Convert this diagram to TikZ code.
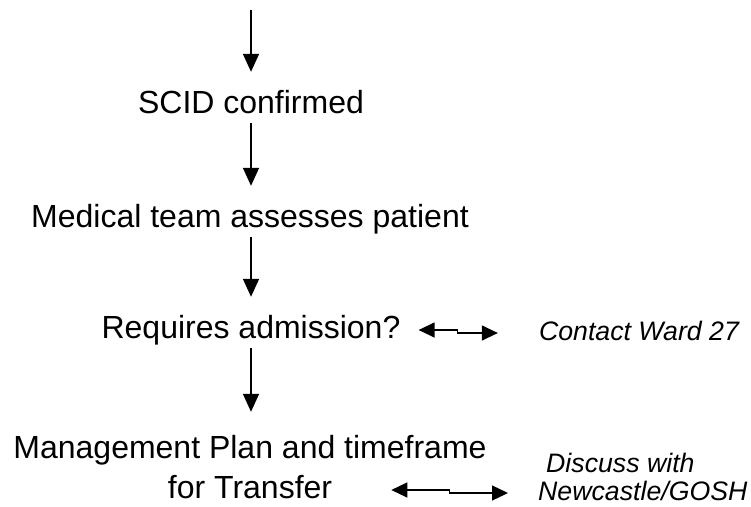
\documentclass[tikz,border=0pt]{standalone}
\usepackage{fontspec}
\setmainfont{Liberation Sans}
\usetikzlibrary{arrows.meta}

\begin{document}
\begin{tikzpicture}[x=1pt,y=-1pt,
  stage/.style={inner sep=0pt,anchor=base,text height=23pt,text depth=7pt,font=\fontsize{32}{38}\selectfont},
  note/.style={inner sep=0pt,text height=19pt,text depth=5pt,font=\fontsize{26.7}{30}\selectfont\itshape},
  flow/.style={line width=1.6pt,shorten <=3pt,shorten >=18pt,-{Triangle[width=16pt,length=18pt]}},
  link/.style={line width=1.3pt,{Triangle[width=15pt,length=16pt]}-{Triangle[width=15pt,length=16pt]}}]

\useasboundingbox (0,0) rectangle (751,506);

\coordinate (start) at (251,10);
\node[stage] (scid) at (251,113) {SCID confirmed};
\node[stage] (medical) at (250,227) {Medical team assesses patient};
\node[stage] (admission) at (251,338) {Requires admission?};
\node[stage] (plan) at (250,458) {Management Plan and timeframe};
\node[stage] (transfer) at (250,498) {for Transfer};

\node[note,anchor=base] (ward) at (639,340) {Contact Ward 27};
\node[note,anchor=base west] (discuss) at (546,472) {Discuss with};
\node[note,anchor=base west] (gosh) at (538,500) {Newcastle/GOSH};

\draw[flow,shorten <=0pt] (start) -- (start |- scid.north);
\draw[flow] (scid.south) -- (scid.south |- medical.north);
\draw[flow] (scid.south |- medical.south) -- (scid.south |- admission.north);
\draw[flow,shorten >=23pt] (admission.south) -- (admission.south |- plan.north);

\draw[link,shorten <=18pt,shorten >=41pt] (admission.east) -- ++(57,0) |- (ward.west);
\draw[link,shorten <=59pt,shorten >=30pt] (transfer.east) -- ++(117,0) |- (gosh.west);

\end{tikzpicture}
\end{document}
